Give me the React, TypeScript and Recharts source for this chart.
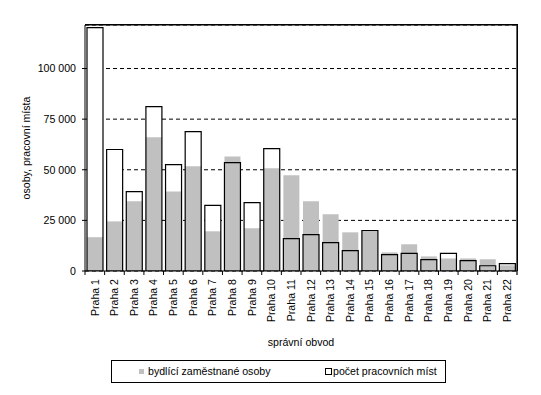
import React from 'react';
import { BarChart, Bar, XAxis, YAxis, CartesianGrid } from 'recharts';

const categories = [
  'Praha 1', 'Praha 2', 'Praha 3', 'Praha 4', 'Praha 5', 'Praha 6', 'Praha 7', 'Praha 8',
  'Praha 9', 'Praha 10', 'Praha 11', 'Praha 12', 'Praha 13', 'Praha 14', 'Praha 15',
  'Praha 16', 'Praha 17', 'Praha 18', 'Praha 19', 'Praha 20', 'Praha 21', 'Praha 22',
];
const bydliciZamestnaneOsoby = [
  16700, 24500, 34400, 66000, 39300, 51700, 19600, 56600, 21100, 50700, 47300,
  34400, 28000, 19100, 19800, 9200, 13200, 7200, 6200, 6200, 5800, 2800,
];
const pocetPracovnichMist = [
  120200, 60000, 39200, 81200, 52500, 68800, 32400, 53500, 33800, 60400, 16000,
  18000, 14000, 10100, 20000, 8100, 8700, 5600, 8700, 5100, 2600, 3600,
];
const yTicks = [0, 25000, 50000, 75000, 100000];
const yMax = 121500;
const seriesNames = ['bydlící zaměstnané osoby', 'počet pracovních míst'];
const xTitle = 'správní obvod';
const yTitle = 'osoby, pracovní místa';

const data = categories.map((name, i) => ({
  name,
  bydlici: bydliciZamestnaneOsoby[i],
  mista: pocetPracovnichMist[i],
}));

const FONT = '"Liberation Sans", Arial, sans-serif';
const FS = 10.6;
const fmt = (n: number) => String(n).replace(/\B(?=(\d{3})+(?!\d))/g, ' ');

const MARGIN = { top: 25, right: 24, bottom: 64, left: 30 };
const Y_AXIS_W = 55;
const X_AXIS_H = 60;
const W = 541;
const H = 395;
const PLOT_LEFT = MARGIN.left + Y_AXIS_W;
const PLOT_TOP = MARGIN.top;
const PLOT_RIGHT = W - MARGIN.right;
const PLOT_BOTTOM = H - MARGIN.bottom - X_AXIS_H;

const XTick = (props: any) => {
  const { x, y, payload, index } = props;
  const off = payload && payload.offset != null ? payload.offset : 9.8;
  const y0 = y - 8;
  const isLast = index === categories.length - 1;
  return (
    <g>
      <line x1={x - off} x2={x - off} y1={y0} y2={y0 + 4} stroke="#000" />
      {isLast && (
        <g>
          <line x1={x + off} x2={x + off} y1={y0 + 4} y2={PLOT_TOP} stroke="#000" strokeWidth={1.2} />
          <line x1={PLOT_LEFT} x2={x + off} y1={PLOT_TOP} y2={PLOT_TOP} stroke="#000" strokeWidth={1.2} />
        </g>
      )}
      <text
        transform={`translate(${x},${y}) rotate(-90)`}
        textAnchor="end"
        dy="0.35em"
        fontSize={FS}
        fontFamily={FONT}
        fill="#000"
      >
        {payload.value}
      </text>
    </g>
  );
};

export default function App() {
  return (
    <div style={{ position: 'absolute', left: 0, top: 0, width: W, height: H, background: '#fff' }}>
      <BarChart width={W} height={H} data={data} margin={MARGIN} barCategoryGap={0}>
        <CartesianGrid vertical={false} stroke="#000" strokeDasharray="4 3" xAxisId="a" />
        <XAxis
          xAxisId="a"
          dataKey="name"
          height={X_AXIS_H}
          interval={0}
          tickSize={0}
          tickMargin={8}
          tickLine={false}
          axisLine={{ stroke: '#000' }}
          tick={<XTick />}
          label={{
            content: (p: any) => {
              const vb = p.viewBox;
              return (
                <text
                  x={vb.x + vb.width / 2}
                  y={vb.y + 71}
                  textAnchor="middle"
                  dy="0.35em"
                  fontSize={FS}
                  fontFamily={FONT}
                  fill="#000"
                >
                  {xTitle}
                </text>
              );
            },
          }}
        />
        <XAxis xAxisId="b" dataKey="name" hide />
        <XAxis xAxisId="c" dataKey="name" hide />
        <YAxis
          width={Y_AXIS_W}
          domain={[0, yMax]}
          ticks={yTicks}
          allowDataOverflow
          tickSize={3}
          tickMargin={6}
          tickLine={{ stroke: '#000' }}
          axisLine={{ stroke: '#000' }}
          tick={{ fill: '#000', fontSize: FS, fontFamily: FONT }}
          tickFormatter={fmt}
          label={{
            content: (p: any) => {
              const vb = p.viewBox;
              const cx = vb.x - 4;
              const cy = vb.y + vb.height / 2;
              return (
                <text
                  transform={`translate(${cx},${cy}) rotate(-90)`}
                  textAnchor="middle"
                  dy="0.35em"
                  fontSize={FS}
                  fontFamily={FONT}
                  fill="#000"
                >
                  {yTitle}
                </text>
              );
            },
          }}
        />
        <Bar xAxisId="a" dataKey="mista" fill="#fff" barSize={16} isAnimationActive={false} />
        <Bar xAxisId="b" dataKey="bydlici" fill="#c0c0c0" barSize={16} isAnimationActive={false} />
        <Bar
          xAxisId="c"
          dataKey="mista"
          fill="none"
          stroke="#000"
          strokeWidth={1.2}
          barSize={16}
          isAnimationActive={false}
        />
      </BarChart>
      <div
        style={{
          position: 'absolute',
          left: PLOT_LEFT,
          top: PLOT_TOP - 1,
          width: PLOT_RIGHT - PLOT_LEFT + 1,
          height: PLOT_BOTTOM - PLOT_TOP + 1,
          borderTop: '1px solid #000',
          borderRight: '1px solid #000',
          boxSizing: 'border-box',
          pointerEvents: 'none',
        }}
      />
      <div
        style={{
          position: 'absolute',
          left: 111,
          top: 360,
          width: 335,
          height: 23,
          border: '1px solid #000',
          boxSizing: 'border-box',
          fontFamily: FONT,
          fontSize: FS,
          color: '#000',
        }}
      >
        <div style={{ position: 'absolute', left: 27, top: 8, width: 5, height: 5, background: '#c0c0c0' }} />
        <div style={{ position: 'absolute', left: 36, top: 3, lineHeight: '14px', whiteSpace: 'nowrap' }}>
          {seriesNames[0]}
        </div>
        <div
          style={{
            position: 'absolute',
            left: 213,
            top: 7,
            width: 7,
            height: 7,
            border: '1px solid #000',
            boxSizing: 'border-box',
            background: '#fff',
          }}
        />
        <div style={{ position: 'absolute', left: 221, top: 3, lineHeight: '14px', whiteSpace: 'nowrap' }}>
          {seriesNames[1]}
        </div>
      </div>
    </div>
  );
}
